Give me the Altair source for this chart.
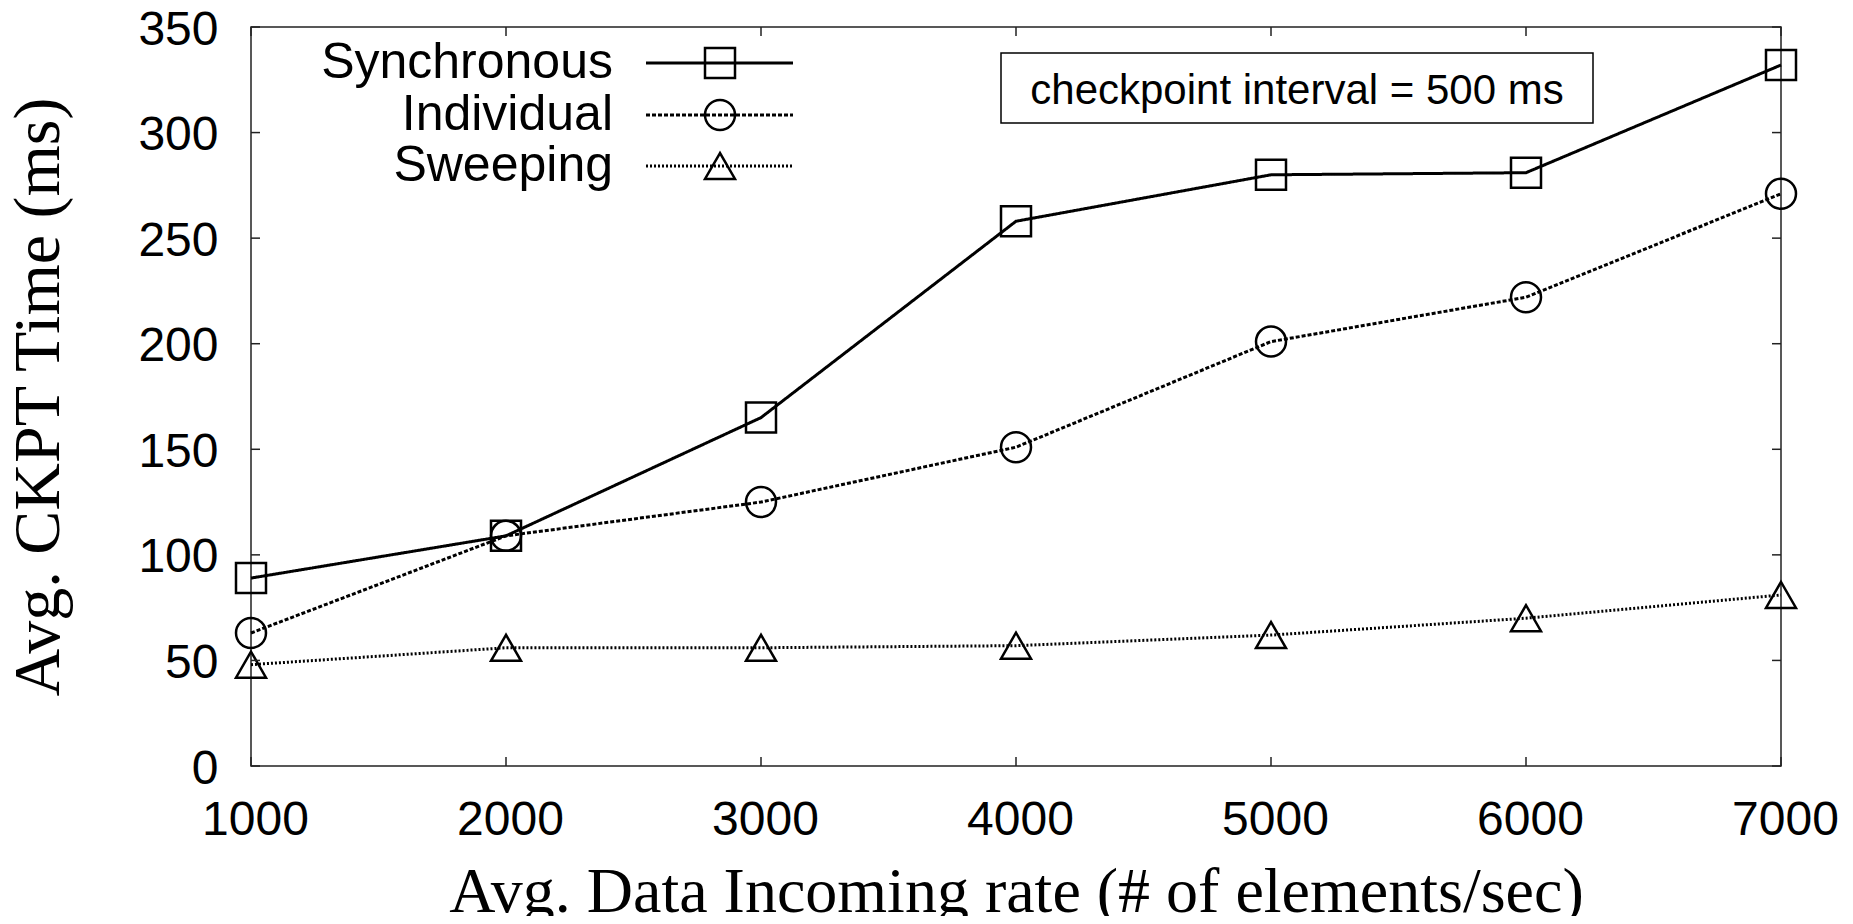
import altair as alt
import pandas as pd

# ---- data ----
rates = [1000, 2000, 3000, 4000, 5000, 6000, 7000]
synchronous = [89, 109, 165, 258, 280, 281, 332]
individual = [63, 109, 125, 151, 201, 222, 271]
sweeping = [48, 56, 56, 57, 62, 70, 81]
series_names = ["Synchronous", "Individual", "Sweeping"]
x_ticks = [1000, 2000, 3000, 4000, 5000, 6000, 7000]
y_ticks = [0, 50, 100, 150, 200, 250, 300, 350]
x_title = "Avg. Data Incoming rate (# of elements/sec)"
y_title = "Avg. CKPT Time (ms)"
note = "checkpoint interval = 500 ms"

series_values = {"Synchronous": synchronous, "Individual": individual, "Sweeping": sweeping}

W, H = 1530, 739
FRAME = "#222222"

styles = {
    "Synchronous": dict(dash=[1, 0], shape="square", width=3),
    "Individual": dict(dash=[4, 2], shape="circle", width=3),
    "Sweeping": dict(dash=[2, 2], shape="triangle-up", width=3),
}

xs = alt.Scale(domain=[1000, 7000], nice=False, zero=False)
ys = alt.Scale(domain=[0, 350], nice=False)

x_axis = alt.Axis(
    title=x_title, values=x_ticks, format="d", grid=False, domain=False,
    ticks=False, tickSize=0, labelPadding=30, labelOffset=4, labelFlush=False,
    labelOverlap=False,
    labelFont="Liberation Sans", labelFontSize=48, labelColor="black",
    titleFont="Liberation Serif", titleFontSize=64, titleFontWeight="normal",
    titleColor="black", titleX=W / 2, titleY=145, titleBaseline="alphabetic",
    titleAlign="center",
)
y_axis = alt.Axis(
    title=y_title, values=y_ticks, format="d", grid=False, domain=False,
    ticks=False, tickSize=0, labelPadding=33, labelOffset=3, labelFlush=False,
    labelOverlap=False,
    labelFont="Liberation Sans", labelFontSize=48, labelColor="black",
    titleFont="Liberation Serif", titleFontSize=66, titleFontWeight="normal",
    titleColor="black", titleX=-193, titleY=H / 2, titleAngle=-90,
    titleBaseline="alphabetic", titleAlign="center",
)

X = alt.X("rate:Q", scale=xs, axis=x_axis)
Y = alt.Y("value:Q", scale=ys, axis=y_axis)

layers = []
for name in series_names:
    df = pd.DataFrame({"rate": rates, "value": series_values[name]})
    st = styles[name]
    base = alt.Chart(df)
    layers.append(
        base.mark_line(color="black", strokeWidth=st["width"], strokeDash=st["dash"]).encode(x=X, y=Y)
    )
    layers.append(
        base.mark_point(shape=st["shape"], size=900, filled=False, stroke="black",
                        strokeWidth=2.5, opacity=1).encode(x=X, y=Y)
    )

# inward ticks on all four sides
xt = alt.Chart(pd.DataFrame({"rate": x_ticks}))
yt = alt.Chart(pd.DataFrame({"value": y_ticks}))
TL = 9
layers.append(xt.mark_rule(color=FRAME, strokeWidth=1.5).encode(x=X, y=alt.value(H), y2=alt.value(H - TL)))
layers.append(xt.mark_rule(color=FRAME, strokeWidth=1.5).encode(x=X, y=alt.value(0), y2=alt.value(TL)))
layers.append(yt.mark_rule(color=FRAME, strokeWidth=1.5).encode(y=Y, x=alt.value(0), x2=alt.value(TL)))
layers.append(yt.mark_rule(color=FRAME, strokeWidth=1.5).encode(y=Y, x=alt.value(W), x2=alt.value(W - TL)))

# legend (top-left, labels right-aligned, then line sample with symbol)
one = alt.Data(values=[{}])
leg_rows = [36, 88, 139]
for name, ry in zip(series_names, leg_rows):
    st = styles[name]
    layers.append(
        alt.Chart(one).mark_text(align="right", baseline="alphabetic", font="Liberation Sans",
                                 fontSize=50, color="black").encode(
            x=alt.value(362), y=alt.value(ry + 15), text=alt.value(name))
    )
    layers.append(
        alt.Chart(one).mark_rule(color="black", strokeWidth=st["width"], strokeDash=st["dash"]).encode(
            x=alt.value(395), x2=alt.value(542), y=alt.value(ry))
    )
    layers.append(
        alt.Chart(one).mark_point(shape=st["shape"], size=900, filled=False, stroke="black",
                                  strokeWidth=2.5, opacity=1).encode(
            x=alt.value(469), y=alt.value(ry))
    )

# annotation box
layers.append(
    alt.Chart(one).mark_rect(fill="white", stroke="black", strokeWidth=1.5).encode(
        x=alt.value(750), x2=alt.value(1342), y=alt.value(26), y2=alt.value(96))
)
layers.append(
    alt.Chart(one).mark_text(align="center", baseline="alphabetic", font="Liberation Sans",
                             fontSize=42, color="black").encode(
        x=alt.value(1046), y=alt.value(77), text=alt.value(note))
)

chart = alt.layer(*layers).properties(
    width=W, height=H,
    autosize=alt.AutoSizeParams(type="none"),
    padding={"left": 243, "top": 19, "right": 62, "bottom": 150},
).configure_view(stroke=FRAME, strokeWidth=1.5)

chart.save("out.html", embed_options={"renderer": "svg", "actions": False})
